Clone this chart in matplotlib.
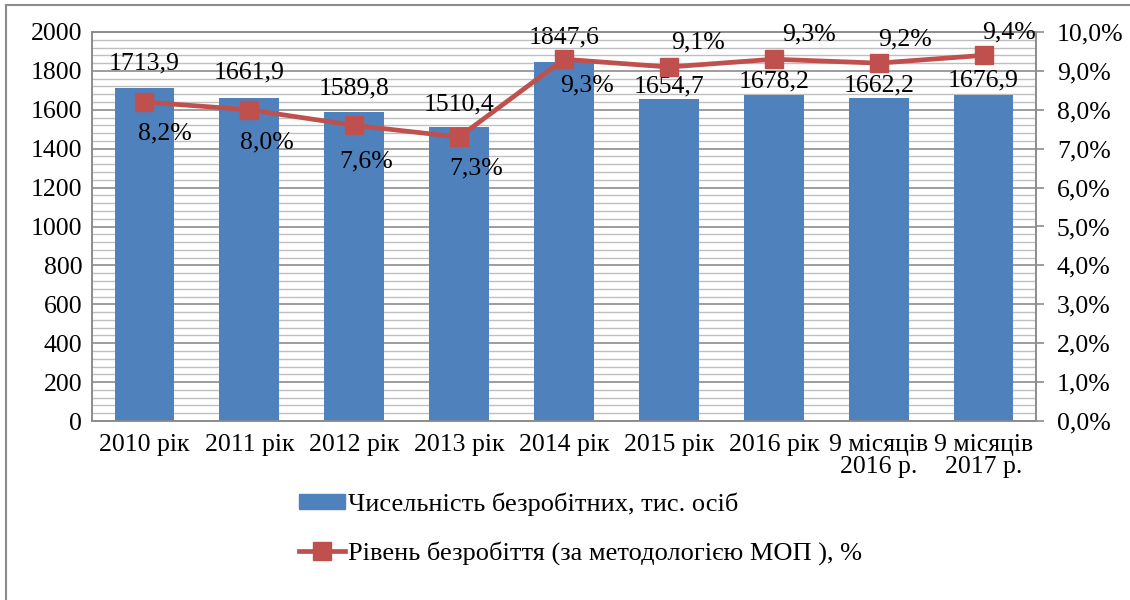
import matplotlib
matplotlib.use("Agg")
import matplotlib.pyplot as plt
from matplotlib.ticker import MultipleLocator, FuncFormatter
from matplotlib.lines import Line2D
from matplotlib.patches import Patch

categories = ["2010 рік", "2011 рік", "2012 рік", "2013 рік", "2014 рік",
              "2015 рік", "2016 рік", "9 місяців\n2016 р.", "9 місяців\n2017 р."]
unemployed = [1713.9, 1661.9, 1589.8, 1510.4, 1847.6, 1654.7, 1678.2, 1662.2, 1676.9]
rate = [8.2, 8.0, 7.6, 7.3, 9.3, 9.1, 9.3, 9.2, 9.4]
bar_label_name = "Чисельність безробітних, тис. осіб"
line_label_name = "Рівень безробіття (за методологією МОП ), %"

# label offsets in pixels (style)
bar_lbl_off = [24, 25, 23, 23, 24, 13, 13, 12, 14]
line_lbl_off = [(20, 31), (18, 33), (12, 36), (17, 31), (23, 26),
                (29, -25), (35, -25), (26, -24), (25, -23)]

BAR_C = "#4F81BD"
LINE_C = "#C0504D"
plt.rcParams['font.family'] = ['Liberation Serif', 'DejaVu Serif']
FS = 18.5
PX = 0.72  # points per pixel at dpi 100

fig = plt.figure(figsize=(11.3, 6.0), dpi=100)
ax = fig.add_axes([92/1130, 1-421/600, (1036-92)/1130, (421-32)/600])
x = list(range(len(categories)))

ax.bar(x, unemployed, width=0.57, color=BAR_C, zorder=3)
ax.set_xlim(-0.5, len(categories)-0.5)
ax.set_ylim(0, 2000)
ax.yaxis.set_major_locator(MultipleLocator(200))
ax.yaxis.set_minor_locator(MultipleLocator(40))
ax.grid(which='minor', axis='y', color='#BFBFBF', linewidth=1.0, zorder=0)
ax.grid(which='major', axis='y', color='#8C8C8C', linewidth=1.2, zorder=0)
ax.set_axisbelow(True)
ax.set_xticks(x)
ax.set_xticklabels(categories, fontsize=FS, linespacing=1.0)
ax.tick_params(axis='x', length=0, pad=9)
ax.tick_params(axis='y', which='both', length=0, pad=7, labelsize=FS)
for s in ax.spines.values():
    s.set_color('#8C8C8C')
    s.set_linewidth(1.2)

for xi, v, off in zip(x, unemployed, bar_lbl_off):
    ax.annotate(f"{v:.1f}".replace('.', ','), (xi, v), xytext=(0, off*PX),
                textcoords='offset points', ha='center', va='center',
                fontsize=FS, zorder=5)

ax2 = ax.twinx()
ax2.set_ylim(0, 10)
ax2.yaxis.set_major_locator(MultipleLocator(1))
ax2.yaxis.set_major_formatter(FuncFormatter(lambda v, p: f"{v:.1f}%".replace('.', ',')))
ax2.plot(x, rate, color=LINE_C, linewidth=3.4, marker='s', markersize=12.5,
         markerfacecolor=LINE_C, markeredgecolor=LINE_C, zorder=4)
ax2.tick_params(axis='y', length=6, width=1.2, color='#8C8C8C', pad=9, labelsize=FS)
for s in ax2.spines.values():
    s.set_color('#8C8C8C')
    s.set_linewidth(1.2)

for xi, v, (dx, dy) in zip(x, rate, line_lbl_off):
    ax2.annotate(f"{v:.1f}%".replace('.', ','), (xi, v), xytext=(dx*PX, -dy*PX),
                 textcoords='offset points', ha='center', va='center',
                 fontsize=FS, zorder=6)

handles = [Patch(facecolor=BAR_C, edgecolor=BAR_C),
           Line2D([0], [0], color=LINE_C, linewidth=3.4, marker='s', markersize=12.5)]
fig.legend(handles, [bar_label_name, line_label_name], loc='upper left',
           bbox_to_anchor=(286/1130, 1-479/600), frameon=False, fontsize=19,
           borderpad=0, handlelength=1.75, handletextpad=0.1, labelspacing=0.95,
           handleheight=0.5)

# outer chart border (top and left visible)
fig.add_artist(Line2D([6/1130, 6/1130], [0, 1-5/600], transform=fig.transFigure,
                      color='#8C8C8C', linewidth=1.5))
fig.add_artist(Line2D([6/1130, 1], [1-5/600, 1-5/600], transform=fig.transFigure,
                      color='#8C8C8C', linewidth=1.5))

fig.savefig("out.png", dpi=100)
